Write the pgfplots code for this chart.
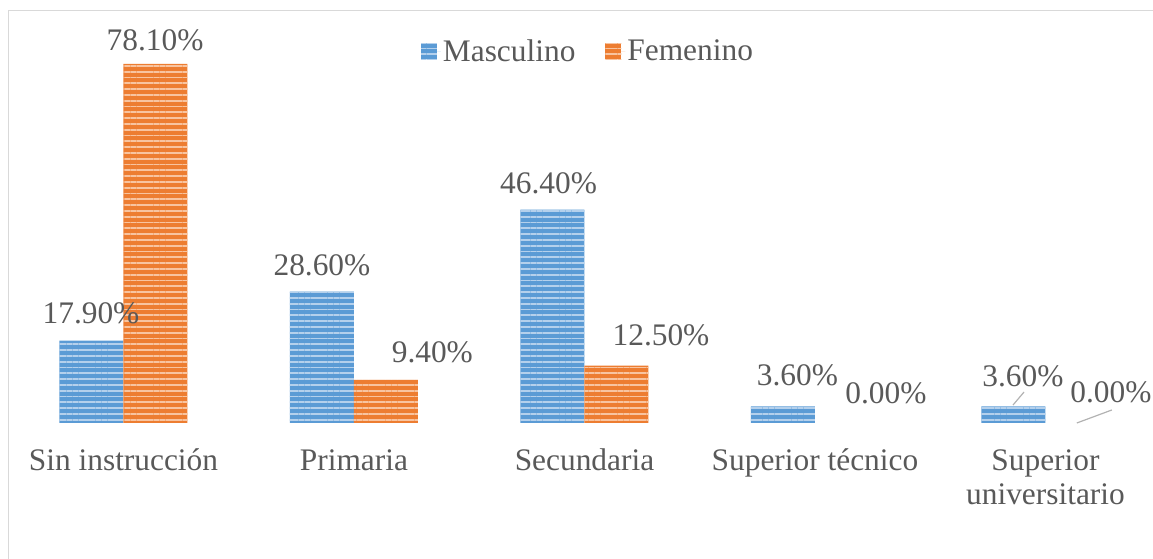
\documentclass[border=0pt]{standalone}
\usepackage{pgfplots}
\pgfplotsset{compat=1.18}
\usetikzlibrary{patterns.meta}
\usepackage{fontspec}
\setmainfont{Liberation Serif}
\definecolor{mblue}{HTML}{5B9BD5}
\definecolor{mblueL}{HTML}{B4D0EC}
\definecolor{morange}{HTML}{ED7D31}
\definecolor{morangeL}{HTML}{F8C4A0}
\definecolor{txt}{HTML}{595959}
\definecolor{frame}{HTML}{D9D9D9}
\begin{document}
\begin{tikzpicture}[x=1bp,y=1bp,font=\fontsize{31.5}{35}\selectfont, text=txt]
\useasboundingbox (0,0) rectangle (1153,559);
\draw[frame, line width=1.5bp] (8.5,-20) -- (8.5,548.5) -- (1180,548.5);
\begin{axis}[
  at={(8.25bp,136bp)}, anchor=south west,
  scale only axis, width=1152.5bp, height=413.7bp,
  xmin=-0.5, xmax=4.5, ymin=0, ymax=90,
  ybar=0pt, bar width=64bp,
  axis line style={draw=none},
  major tick length=0pt,
  ytick=\empty,
  xtick={0,1,2,3,4},
  xticklabels={Sin instrucción, Primaria, Secundaria, Superior técnico, {Superior\\universitario}},
  typeset ticklabels with strut,
  xticklabel style={align=center, anchor=north, yshift=-19.2bp, text=txt, font=\fontsize{31.5}{35}\selectfont},
  legend style={at={(0.503,0.899)}, anchor=center, draw=none, fill=none,
    legend columns=2, font=\fontsize{31.5}{35}\selectfont, text=txt,
    /tikz/every even column/.append style={column sep=28bp}},
  legend image code/.code={\fill[#1] (0bp,-8bp) rectangle (16bp,8bp); \path (0bp,0bp) -- (20bp,0bp);},
  clip=false,
]
\addplot[fill=mblue, draw=none, postaction={pattern={Lines[angle=0,distance=5.8bp,line width=1.8bp]}, pattern color=mblueL}]
  coordinates {(0,17.9) (1,28.6) (2,46.4) (3,3.6) (4,3.6)};
\addplot[fill=morange, draw=none, postaction={pattern={Lines[angle=0,distance=5.8bp,line width=1.8bp]}, pattern color=morangeL}]
  coordinates {(0,78.1) (1,9.4) (2,12.5)};
\legend{Masculino, Femenino}
\node[text=txt] at (axis cs:-0.141,23.9) {17.90\%};
\node[text=txt] at (axis cs:0.137,83.3) {78.10\%};
\node[text=txt] at (axis cs:0.861,34.4) {28.60\%};
\node[text=txt] at (axis cs:1.340,15.4) {9.40\%};
\node[text=txt] at (axis cs:1.844,52.2) {46.40\%};
\node[text=txt] at (axis cs:2.332,19.1) {12.50\%};
\node[text=txt] at (axis cs:2.924,10.4) {3.60\%};
\node[text=txt] at (axis cs:3.308,6.5) {0.00\%};
\node[text=txt] at (axis cs:3.902,10.2) {3.60\%};
\node[text=txt] at (axis cs:4.284,6.7) {0.00\%};
\draw[gray!60, line width=1.2bp] (axis cs:3.859,3.9) -- (axis cs:3.907,6.74);
\draw[gray!60, line width=1.2bp] (axis cs:4.136,0) -- (axis cs:4.288,2.83);
\end{axis}
\end{tikzpicture}
\end{document}
